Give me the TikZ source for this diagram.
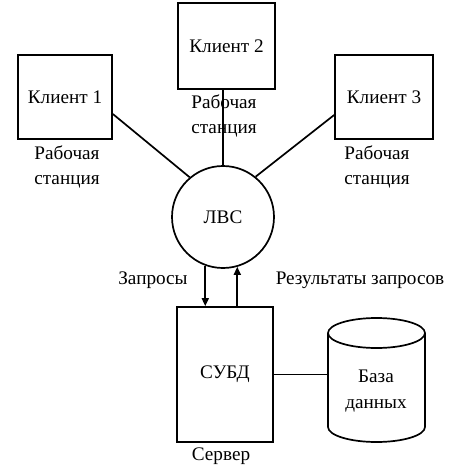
\documentclass[tikz,border=0pt]{standalone}
\usepackage{fontspec}
\setmainfont{Liberation Serif}
\usetikzlibrary{arrows.meta}
\begin{document}
\begin{tikzpicture}[x=1pt,y=-1pt,
  line width=1.7pt,
  every node/.style={font=\fontsize{19.2}{25.5}\selectfont, inner sep=0pt},
  lbl/.style={align=center},
  arr/.style={-{Triangle[length=8pt,width=7pt]}}]
\useasboundingbox (0,0) rectangle (456,469);
% clients
\node[draw, minimum width=94pt, minimum height=84pt] (c1) at (65,97) {Клиент 1};
\node[draw, minimum width=97pt, minimum height=86pt] (c2) at (226.5,46) {Клиент 2};
\node[draw, minimum width=98pt, minimum height=84pt] (c3) at (384,97) {Клиент 3};
\node[lbl] (l1) at (67,167) {Рабочая\\станция};
\node[lbl] (l2) at (224,116) {Рабочая\\станция};
\node[lbl] (l3) at (377,167) {Рабочая\\станция};
% LAN
\node[draw, circle, minimum size=102pt] (lan) at (223,217) {ЛВС};
\draw ([yshift=-17pt]c1.east) -- (lan.130);
\draw ([yshift=-18pt]c3.west) -- (lan.51);
\draw (lan.north |- c2.south) -- (lan.north);
% server
\node[draw, minimum width=96pt, minimum height=135pt] (dbms) at (225,374.5) {СУБД};
\node (srv) at (221,456) {Сервер};
\draw[arr] (lan.250) -- (lan.250 |- dbms.north);
\draw[arr] (lan.286 |- dbms.north) -- (lan.286);
\node (q) at (153,280) {Запросы};
\node (r) at (360,280) {Результаты запросов};
% database cylinder
\draw (328,333) -- (328,427) arc[start angle=180, end angle=360, x radius=48.5, y radius=-15] -- (425,333);
\draw (376.5,333) ellipse[x radius=48.5, y radius=15];
\coordinate (dbl) at (328,374.5);
\node[lbl] (db) at (376,391) {База\\данных};
\draw (dbms.east) -- (dbl);
\end{tikzpicture}
\end{document}
